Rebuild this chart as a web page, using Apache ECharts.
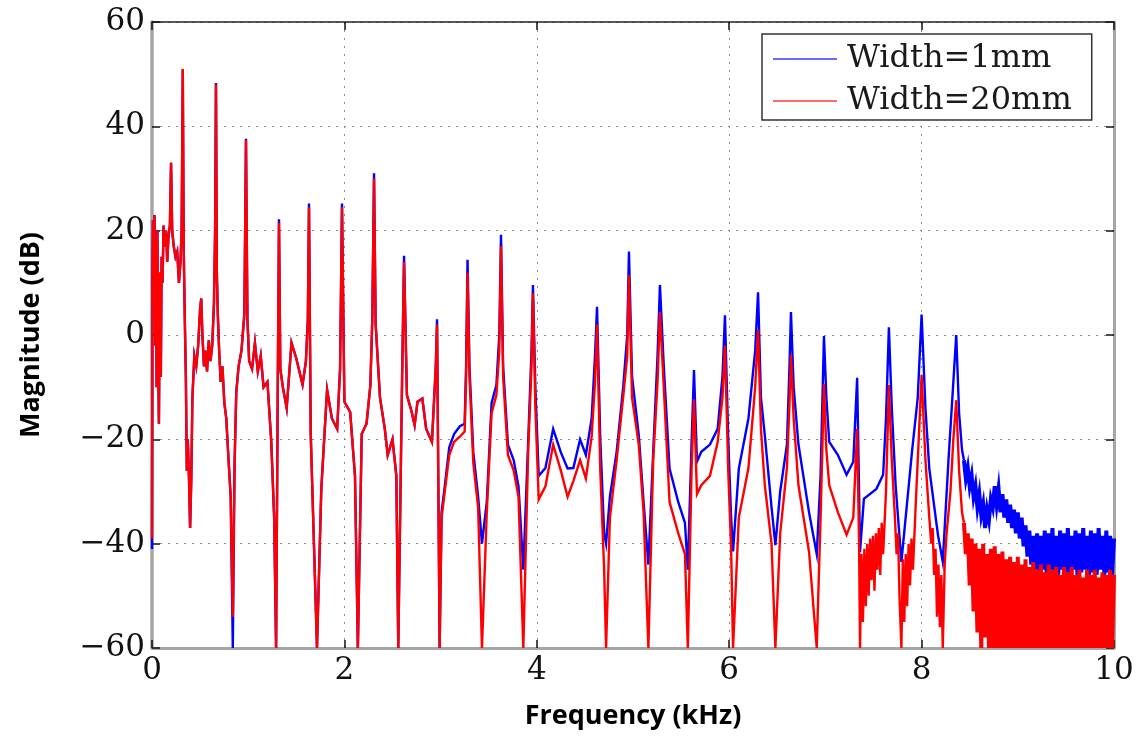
<!DOCTYPE html>
<html>
<head>
<meta charset="utf-8">
<title>Magnitude response</title>
<script src="https://cdn.jsdelivr.net/npm/echarts@6/dist/echarts.min.js"></script>
<style>
  html, body { margin: 0; padding: 0; background: #ffffff; }
  #chart { width: 1144px; height: 738px; }
</style>
</head>
<body>
<div id="chart"></div>
<script>
// Axis ticks
const freqTicks = [0, 2, 4, 6, 8, 10];          // kHz
const magTicks = [-60, -40, -20, 0, 20, 40, 60]; // dB

const seriesNames = ['Width=1mm', 'Width=20mm'];

// Magnitude response, strip width 1 mm, resonance region: [frequency kHz, magnitude dB]
const width1mm = [
  [0.000,-41],[0.004,8],[0.010,22],[0.018,6],[0.026,23],[0.034,-2],[0.040,18],[0.048,-10],[0.056,20],[0.064,-4],
  [0.072,-17],[0.082,12],[0.092,-8],[0.100,15],[0.110,10],[0.120,21],[0.132,17],[0.146,20],[0.158,14],[0.172,19],
  [0.186,21],[0.198,33],[0.210,20],[0.226,17],[0.244,15],[0.262,16],[0.280,10],[0.296,14],[0.308,20],[0.320,51],
  [0.330,16],[0.342,2],[0.352,-8],[0.362,-26],[0.372,-20],[0.384,-27],[0.396,-37],[0.408,-28],[0.420,-12],[0.440,-4],
  [0.460,-6],[0.480,-2],[0.500,5],[0.512,7],[0.524,0],[0.540,-6],[0.556,-3],[0.572,-7],[0.590,-1],[0.608,-5],
  [0.626,-2],[0.644,6],[0.656,20],[0.665,48.3],[0.674,12],[0.684,4],[0.698,-3],[0.714,-9],[0.732,-6],[0.752,-13],
  [0.772,-16],[0.796,-24],[0.818,-31],[0.840,-60],[0.858,-25],[0.876,-11],[0.900,-6],[0.930,-3],[0.960,4],[0.977,37.6],
  [0.992,3],[1.010,-5],[1.040,-6.5],[1.070,-1.5],[1.100,-7],[1.130,-4],[1.160,-10],[1.200,-9],[1.240,-20.5],[1.270,-35],
  [1.290,-60],[1.308,-8],[1.320,22.2],[1.334,-6.5],[1.360,-10],[1.400,-14],[1.450,-1.5],[1.500,-4.5],[1.565,-9.5],[1.600,-5],
  [1.620,3],[1.632,25.2],[1.650,-19],[1.715,-60],[1.760,-29.5],[1.820,-10.5],[1.870,-16],[1.925,-18],[1.955,-6.5],[1.975,25.2],
  [2.000,-12.8],[2.060,-14.8],[2.110,-27],[2.140,-60],[2.180,-19],[2.230,-17],[2.270,-9.6],[2.290,3],[2.308,31],[2.325,2],
  [2.370,-12],[2.420,-18],[2.450,-23],[2.500,-20],[2.540,-27],[2.560,-60],[2.600,-8],[2.620,15.2],[2.650,-11.5],[2.700,-14.8],
  [2.730,-17.3],[2.760,-12.8],[2.810,-12.2],[2.850,-18],[2.910,-20.5],[2.950,-6],[2.963,3],[2.990,-60],[3.010,-34],[3.040,-29.5],
  [3.090,-21.5],[3.140,-19],[3.200,-17.5],[3.250,-17],[3.265,-6],[3.280,14.4],[3.300,-6],[3.340,-22.5],[3.390,-31],[3.430,-40],
  [3.480,-32],[3.530,-13],[3.580,-9.6],[3.610,0],[3.628,19.2],[3.650,-6],[3.700,-21],[3.760,-24],[3.810,-29],[3.860,-45],
  [3.910,-20.5],[3.945,-3],[3.960,9.6],[3.985,-10],[4.020,-27],[4.090,-25.5],[4.170,-18],[4.250,-22.5],[4.320,-25.6],[4.380,-25.5],
  [4.450,-20],[4.510,-23],[4.570,-16],[4.605,-4],[4.626,5.4],[4.660,-20],[4.700,-38],[4.720,-40],[4.760,-31],[4.830,-22.4],
  [4.900,-9.6],[4.940,0],[4.958,16],[4.990,-8],[5.060,-19.2],[5.110,-32],[5.160,-44],[5.210,-22.4],[5.255,-4],[5.280,9.6],
  [5.320,-6],[5.380,-25.6],[5.470,-32],[5.540,-36],[5.570,-45],[5.610,-20],[5.634,-6.7],[5.665,-24.3],[5.710,-22.4],[5.800,-21],
  [5.880,-18],[5.930,-8],[5.956,3.8],[5.990,-20],[6.020,-35],[6.040,-41.5],[6.100,-25.6],[6.200,-16],[6.270,-3],[6.300,8.2],
  [6.330,-12],[6.370,-19.2],[6.440,-33],[6.480,-40.3],[6.530,-30],[6.600,-21],[6.625,-7],[6.642,4.4],[6.670,-10],[6.720,-21],
  [6.830,-34],[6.910,-42],[6.950,-27],[6.985,-0.2],[7.010,-12],[7.040,-20.5],[7.130,-23],[7.220,-26.8],[7.290,-24.3],[7.330,-8.2],
  [7.350,-30],[7.360,-41.6],[7.400,-31.4],[7.530,-29.5],[7.600,-26.8],[7.630,-16],[7.660,1.5],[7.690,-14],[7.730,-28.8],[7.790,-43.5],
  [7.850,-32],[7.900,-22.4],[7.960,-12],[8.000,3.9],[8.040,-14],[8.080,-25.6],[8.170,-38.3],[8.220,-43.5],[8.280,-23.8],[8.320,-12],
  [8.360,0],[8.390,-15],[8.420,-22],[8.44,-24]
];

// Strip width 1 mm, noise floor above the last resonance
const width1mmTail = [
  [8.44,-24],[8.46,-27.5],[8.48,-25.5],[8.50,-29],[8.52,-27],[8.54,-31],[8.56,-29],[8.58,-33],[8.60,-30.5],[8.62,-34.5],
  [8.64,-32.5],[8.66,-37],[8.68,-33.5],[8.70,-35.5],[8.72,-31.5],[8.74,-33],[8.76,-29],[8.78,-32.5],[8.80,-29.5],[8.82,-34],
  [8.84,-30.5],[8.86,-35],[8.88,-31.5],[8.90,-36],[8.92,-32.5],[8.94,-37],[8.96,-33.5],[8.98,-38],[9.00,-34],[9.02,-39],
  [9.04,-35],[9.06,-40.5],[9.08,-36.5],[9.10,-42.5],[9.12,-37.5],[9.14,-44],[9.16,-38.5],[9.18,-45],[9.20,-38],[9.22,-45.5],
  [9.24,-38.5],[9.26,-45],[9.28,-37.5],[9.30,-46],[9.32,-38],[9.34,-45],[9.36,-37],[9.38,-45.5],[9.40,-38.5],[9.42,-46],
  [9.44,-37.5],[9.46,-45],[9.48,-38],[9.50,-45.5],[9.52,-37],[9.54,-46],[9.56,-38.5],[9.58,-45],[9.60,-37.5],[9.62,-46],
  [9.64,-38],[9.66,-45.5],[9.68,-37],[9.70,-45],[9.72,-38.5],[9.74,-46],[9.76,-37.5],[9.78,-45.5],[9.80,-38],[9.82,-46],
  [9.84,-37],[9.86,-45],[9.88,-38.5],[9.90,-46],[9.92,-37.5],[9.94,-45.5],[9.96,-38.5],[9.98,-46],[10.00,-39]
];

// Magnitude response, strip width 20 mm, resonance region: [frequency kHz, magnitude dB]
const width20mm = [
  [0.000,-39],[0.004,8],[0.010,22],[0.018,6],[0.026,23],[0.034,-2],[0.040,18],[0.048,-10],[0.056,20],[0.064,-4],
  [0.072,-17],[0.082,12],[0.092,-8],[0.100,15],[0.110,10],[0.120,21],[0.132,17],[0.146,20],[0.158,14],[0.172,19],
  [0.186,21],[0.198,33],[0.210,20],[0.226,17],[0.244,15],[0.262,16],[0.280,10],[0.296,14],[0.308,20],[0.320,51],
  [0.330,16],[0.342,2],[0.352,-8],[0.362,-26],[0.372,-20],[0.384,-27],[0.396,-37],[0.408,-28],[0.420,-12],[0.440,-4],
  [0.460,-6],[0.480,-2],[0.500,5],[0.512,7],[0.524,0],[0.540,-6],[0.556,-3],[0.572,-7],[0.590,-1],[0.608,-5],
  [0.626,-2],[0.644,6],[0.656,20],[0.665,48],[0.674,12],[0.684,4],[0.698,-3],[0.714,-9],[0.732,-6],[0.752,-13],
  [0.772,-16],[0.796,-24],[0.818,-31],[0.840,-54],[0.858,-25],[0.876,-11],[0.900,-6],[0.930,-3],[0.960,4],[0.977,37.4],
  [0.992,3],[1.010,-5],[1.040,-6.5],[1.070,-1.5],[1.100,-7],[1.130,-4],[1.160,-10],[1.200,-9],[1.240,-20.5],[1.270,-35],
  [1.290,-60],[1.308,-8],[1.320,21.5],[1.334,-6.5],[1.360,-10],[1.400,-14],[1.450,-1.5],[1.500,-4.5],[1.565,-9.5],[1.600,-5],
  [1.620,3],[1.632,24.5],[1.650,-19],[1.715,-60],[1.760,-29.5],[1.820,-10.5],[1.870,-16],[1.925,-18],[1.955,-6.5],[1.975,24.5],
  [2.000,-12.8],[2.060,-14.8],[2.110,-27],[2.140,-60],[2.180,-19],[2.230,-17],[2.270,-9.6],[2.290,3],[2.308,30],[2.325,2],
  [2.370,-12],[2.420,-18],[2.450,-23],[2.500,-20],[2.540,-27],[2.560,-60],[2.600,-8],[2.620,14],[2.650,-11.5],[2.700,-14.8],
  [2.730,-17.3],[2.760,-12.8],[2.810,-12.2],[2.850,-18],[2.910,-20.5],[2.950,-6],[2.963,2],[2.990,-60],[3.010,-35],[3.040,-30.5],
  [3.090,-23],[3.140,-20.5],[3.200,-19.5],[3.250,-18.5],[3.265,-8],[3.280,12],[3.300,-8],[3.340,-24.5],[3.390,-33],[3.430,-60],
  [3.480,-34],[3.530,-15],[3.580,-11.5],[3.610,-3],[3.628,17],[3.650,-8],[3.700,-23],[3.760,-26],[3.810,-31],[3.860,-60],
  [3.910,-22.5],[3.945,-6],[3.960,8],[3.985,-14],[4.020,-31.5],[4.090,-29],[4.170,-21],[4.250,-26],[4.320,-31],[4.380,-28],
  [4.450,-24],[4.510,-27.5],[4.570,-19.5],[4.605,-9],[4.626,2],[4.660,-26],[4.700,-45],[4.720,-60],[4.760,-35],[4.830,-24],
  [4.900,-11.5],[4.940,-4],[4.958,11.5],[4.990,-12],[5.060,-21],[5.110,-34],[5.160,-60],[5.210,-24],[5.255,-9],[5.280,4.4],
  [5.320,-10],[5.380,-32],[5.470,-38],[5.540,-42],[5.570,-60],[5.610,-25],[5.634,-12.3],[5.665,-30.5],[5.710,-28.8],[5.800,-27],
  [5.880,-20.5],[5.930,-12],[5.956,-2],[5.990,-26],[6.020,-41],[6.040,-60],[6.100,-35],[6.200,-25.5],[6.270,-10],[6.300,1],
  [6.330,-18],[6.370,-28.8],[6.440,-40],[6.480,-60],[6.530,-38],[6.600,-25.5],[6.625,-14],[6.642,-3.8],[6.670,-16],[6.720,-28.8],
  [6.830,-41.6],[6.910,-60],[6.950,-35],[6.985,-9.4],[7.010,-22],[7.040,-28.8],[7.130,-34],[7.220,-38.3],[7.290,-35],[7.330,-18],
  [7.350,-40],[7.360,-60],[7.375,-42],[7.390,-55],[7.405,-41],[7.420,-52],[7.435,-40],[7.450,-50],[7.465,-39],[7.480,-47],
  [7.495,-38.5],[7.510,-49],[7.525,-38],[7.540,-45],[7.555,-37],[7.570,-46],[7.585,-36],[7.600,-42],[7.630,-30],[7.660,-9.6],
  [7.690,-24],[7.720,-34],[7.740,-42],[7.755,-38],[7.770,-50],[7.790,-60],[7.805,-43],[7.820,-55],[7.835,-42],[7.850,-52],
  [7.865,-40],[7.880,-48],[7.895,-39],[7.910,-45],[7.940,-32],[7.970,-20],[8.000,-7.7],[8.040,-24],[8.080,-35],[8.100,-40],
  [8.115,-37],[8.130,-46],[8.145,-41],[8.160,-54],[8.175,-44],[8.190,-56],[8.205,-46],[8.220,-60],[8.240,-44],[8.260,-38],
  [8.300,-30],[8.330,-20],[8.360,-12.5],[8.390,-26],[8.420,-34],[8.44,-36]
];

// Strip width 20 mm, noise floor above the last resonance
const width20mmTail = [
  [8.44,-36],[8.46,-42],[8.48,-38],[8.50,-48],[8.52,-39],[8.54,-53],[8.56,-40],[8.58,-57],[8.60,-41],[8.62,-60],
  [8.64,-40],[8.66,-58],[8.68,-42],[8.70,-60],[8.72,-41],[8.74,-60],[8.76,-40.5],[8.78,-60],[8.80,-42],[8.82,-60],
  [8.84,-41.5],[8.86,-60],[8.88,-43],[8.90,-60],[8.92,-42.5],[8.94,-60],[8.96,-43.5],[8.98,-60],[9.00,-42.5],[9.02,-60],
  [9.04,-44],[9.06,-60],[9.08,-43],[9.10,-60],[9.12,-44.5],[9.14,-60],[9.16,-43.5],[9.18,-60],[9.20,-45],[9.22,-60],
  [9.24,-44],[9.26,-60],[9.28,-45.5],[9.30,-60],[9.32,-44],[9.34,-60],[9.36,-45],[9.38,-60],[9.40,-44.5],[9.42,-60],
  [9.44,-46],[9.46,-60],[9.48,-44.5],[9.50,-60],[9.52,-45.5],[9.54,-60],[9.56,-44.5],[9.58,-60],[9.60,-46],[9.62,-60],
  [9.64,-45],[9.66,-60],[9.68,-46.5],[9.70,-60],[9.72,-45],[9.74,-60],[9.76,-46],[9.78,-60],[9.80,-45],[9.82,-60],
  [9.84,-46.5],[9.86,-60],[9.88,-45.5],[9.90,-60],[9.92,-46],[9.94,-60],[9.96,-45],[9.98,-60],[10.00,-46]
];

const seriesColors = ['#0000ff', '#ff0000'];
const legendColors = ['#6a6aff', '#ff6a6a'];

const tickFont = 'DejaVu Serif';
const minusSign = v => String(v).replace('-', '\u2212');

const chart = echarts.init(document.getElementById('chart'), null, { renderer: 'canvas' });

const gridDots = { type: [2, 6], color: '#8a8a8a', width: 1 };
const tickIn = { show: true, inside: true, length: 8, lineStyle: { color: '#111', width: 1.5 } };

// One response curve; the dense noise floor is stroked wider so it reads as a filled band
function trace(name, data, color, width, z) {
  return {
    name, type: 'line', data,
    xAxisIndex: 0, yAxisIndex: 0,
    showSymbol: false, symbol: 'none', sampling: null,
    color, lineStyle: { color, width, join: 'miter' },
    z
  };
}

chart.setOption({
  animation: false,
  backgroundColor: '#ffffff',
  grid: { left: 152, top: 22, right: 30, bottom: 90, containLabel: false },
  legend: {
    left: 762, top: 34,
    orient: 'vertical',
    padding: [9, 20, 3, 11],
    itemGap: 10,
    itemWidth: 64, itemHeight: 2,
    icon: 'rect',
    borderColor: '#333', borderWidth: 1.5,
    backgroundColor: '#ffffff',
    textStyle: { fontFamily: tickFont, fontSize: 32, color: '#1a1a1a', lineHeight: 32, padding: [0, 0, 0, 5] },
    data: seriesNames.map((n, i) => ({ name: n, itemStyle: { color: legendColors[i] } }))
  },
  xAxis: [
    {
      type: 'value', position: 'bottom',
      min: freqTicks[0], max: freqTicks[freqTicks.length - 1], interval: freqTicks[1] - freqTicks[0],
      name: 'Frequency (kHz)', nameLocation: 'middle', nameGap: 55,
      nameTextStyle: { fontFamily: 'Open Sans', fontWeight: 'bold', fontSize: 27, color: '#000' },
      axisLine: { show: true, onZero: false, lineStyle: { color: '#a6a6a6', width: 3 } },
      axisTick: tickIn,
      axisLabel: { fontFamily: tickFont, fontSize: 31, color: '#111', margin: 7, formatter: minusSign },
      splitLine: { show: true, lineStyle: gridDots }
    },
    {
      type: 'value', position: 'top',
      min: freqTicks[0], max: freqTicks[freqTicks.length - 1], interval: freqTicks[1] - freqTicks[0],
      axisLine: { show: true, onZero: false, lineStyle: { color: '#222', width: 1.5 } },
      axisTick: tickIn,
      axisLabel: { show: false },
      splitLine: { show: false }
    }
  ],
  yAxis: [
    {
      type: 'value', position: 'left',
      min: magTicks[0], max: magTicks[magTicks.length - 1], interval: magTicks[1] - magTicks[0],
      name: 'Magnitude (dB)', nameLocation: 'middle', nameGap: 107,
      nameTextStyle: { fontFamily: 'Open Sans', fontWeight: 'bold', fontSize: 27, color: '#000' },
      axisLine: { show: true, onZero: false, lineStyle: { color: '#a6a6a6', width: 3.5 } },
      axisTick: tickIn,
      axisLabel: { fontFamily: tickFont, fontSize: 31, color: '#111', margin: 7, formatter: minusSign },
      splitLine: { show: true, lineStyle: gridDots }
    },
    {
      type: 'value', position: 'right',
      min: magTicks[0], max: magTicks[magTicks.length - 1], interval: magTicks[1] - magTicks[0],
      axisLine: { show: true, onZero: false, lineStyle: { color: '#a6a6a6', width: 3 } },
      axisTick: tickIn,
      axisLabel: { show: false },
      splitLine: { show: false }
    }
  ],
  series: [
    trace(seriesNames[0], width1mm, seriesColors[0], 2.4, 2),
    trace(seriesNames[0], width1mmTail, seriesColors[0], 4, 2),
    trace(seriesNames[1], width20mm, seriesColors[1], 2.4, 3),
    trace(seriesNames[1], width20mmTail, seriesColors[1], 4, 3)
  ]
});
</script>
</body>
</html>
